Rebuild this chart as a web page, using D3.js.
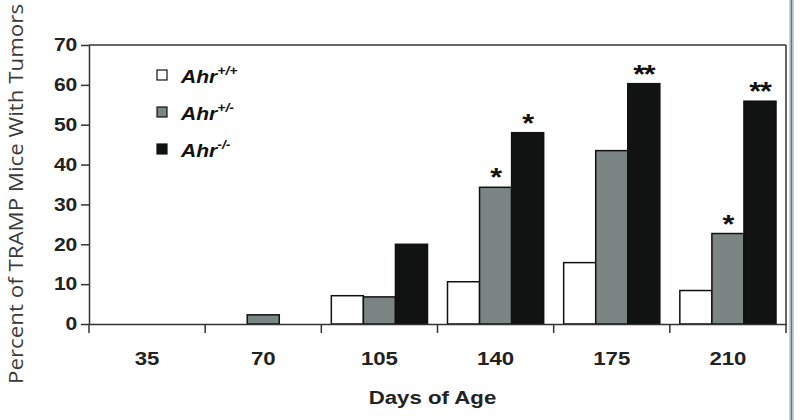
<!DOCTYPE html>
<html>
<head>
<meta charset="utf-8">
<script src="https://cdn.jsdelivr.net/npm/d3@7"></script>
<style>
  body { margin: 0; background: #fff; }
  svg { display: block; }
</style>
</head>
<body>
<svg id="chart" width="800" height="420"></svg>
<script>
// ---- data ----
const days = ["35", "70", "105", "140", "175", "210"];
const wildType = [0, 0, 7.1, 10.6, 15.4, 8.4];     // Ahr+/+
const hetero = [0, 2.3, 6.8, 34.3, 43.5, 22.7];    // Ahr+/-
const knockout = [0, 0, 20.0, 48.0, 60.3, 55.9];   // Ahr-/-
const heteroSig = ["", "", "", "*", "", "*"];
const knockoutSig = ["", "", "", "*", "**", "**"];
const yTicks = [0, 10, 20, 30, 40, 50, 60, 70];
const seriesNames = ["wt", "het", "ko"];
const legendSup = ["+/+", "+/-", "-/-"];
const colors = { wt: "#ffffff", het: "#7b8684", ko: "#111313" };

const svg = d3.select("#chart");
const pLeft = 89, pRight = 786, pTop = 45, pBottom = 324;
const SX = "scale(1.17,1)";
const FONT = "'Liberation Sans', Arial, sans-serif";

const x0 = d3.scaleBand().domain(days).range([pLeft, pRight]).paddingInner(0).paddingOuter(0);
const x1 = d3.scaleBand().domain(seriesNames).range([10, x0.bandwidth() - 10]).padding(0);
const y = d3.scaleLinear().domain([0, 70]).range([pBottom, pTop]);

const rows = days.map((d, i) => ({
  day: d,
  values: [
    { key: "wt", v: wildType[i], sig: "" },
    { key: "het", v: hetero[i], sig: heteroSig[i] },
    { key: "ko", v: knockout[i], sig: knockoutSig[i] }
  ]
}));

// bars
const groups = svg.append("g").selectAll("g").data(rows).join("g")
  .attr("transform", d => `translate(${x0(d.day)},0)`);
groups.selectAll("rect").data(d => d.values.filter(v => v.v > 0)).join("rect")
  .attr("x", d => x1(d.key))
  .attr("width", x1.bandwidth())
  .attr("y", d => y(d.v))
  .attr("height", d => y(0) - y(d.v))
  .attr("fill", d => colors[d.key])
  .attr("stroke", "#111")
  .attr("stroke-width", 1.5);

// significance stars
groups.selectAll("g.sig").data(d => d.values.filter(v => v.sig)).join("g")
  .attr("class", "sig")
  .attr("transform", d => `translate(${x1(d.key) + x1.bandwidth() / 2},${y(d.v) - 1})`)
  .append("text")
  .attr("text-anchor", "middle")
  .attr("transform", SX)
  .attr("font-family", FONT)
  .attr("font-weight", "bold")
  .attr("font-size", 26)
  .attr("letter-spacing", -1)
  .attr("fill", "#111")
  .text(d => d.sig);

// frame: top and right lines
svg.append("line").attr("x1", pLeft).attr("x2", pRight).attr("y1", pTop).attr("y2", pTop)
  .attr("stroke", "#333").attr("stroke-width", 1.5);
svg.append("line").attr("x1", pRight).attr("x2", pRight).attr("y1", pTop).attr("y2", pBottom)
  .attr("stroke", "#333").attr("stroke-width", 1.5);

// y axis
const yAxis = svg.append("g").attr("transform", `translate(${pLeft},0)`)
  .call(d3.axisLeft(y).tickValues(yTicks).tickSize(8).tickPadding(2).tickSizeOuter(0));
yAxis.select(".domain").attr("stroke", "#333").attr("stroke-width", 1.5);
yAxis.selectAll(".tick line").attr("stroke", "#333").attr("stroke-width", 1.5);
yAxis.selectAll(".tick text")
  .attr("font-family", FONT)
  .attr("font-weight", "bold").attr("font-size", 18).attr("fill", "#222")
  .attr("transform", SX);

// x axis
const xAxis = svg.append("g").attr("transform", `translate(0,${pBottom})`)
  .call(d3.axisBottom(x0).tickSize(0).tickPadding(28).tickSizeOuter(0));
xAxis.select(".domain").attr("stroke", "#333").attr("stroke-width", 1.5);
xAxis.selectAll(".tick text")
  .attr("font-family", FONT)
  .attr("font-weight", "bold").attr("font-size", 19).attr("fill", "#222")
  .attr("transform", SX);
// tick marks at band boundaries
const bounds = days.map(d => x0(d)).concat([x0(days[days.length - 1]) + x0.bandwidth()]);
xAxis.selectAll("line.bound").data(bounds).join("line")
  .attr("class", "bound")
  .attr("x1", d => d).attr("x2", d => d).attr("y1", 0).attr("y2", 9)
  .attr("stroke", "#333").attr("stroke-width", 1.5);

// x title
svg.append("g").attr("transform", `translate(${(pLeft + pRight) / 2 - 5},404)`)
  .append("text").attr("text-anchor", "middle").attr("transform", SX)
  .attr("font-family", FONT)
  .attr("font-weight", "bold").attr("font-size", 19).attr("fill", "#222")
  .text("Days of Age");

// y title
svg.append("text")
  .attr("transform", "translate(23,194) rotate(-90)")
  .attr("text-anchor", "middle")
  .attr("font-family", "'Open Sans', sans-serif")
  .attr("font-size", 20).attr("fill", "#3a3a3a")
  .attr("textLength", 380).attr("lengthAdjust", "spacingAndGlyphs")
  .text("Percent of TRAMP Mice With Tumors");

// legend
const legend = svg.append("g");
const legRows = legend.selectAll("g").data(seriesNames).join("g")
  .attr("transform", (d, i) => `translate(157,${83 + i * 37})`);
legRows.append("rect")
  .attr("x", 0).attr("y", -13).attr("width", 10).attr("height", 10)
  .attr("fill", d => colors[d]).attr("stroke", "#111").attr("stroke-width", 1.2);
const legText = legRows.append("g").attr("transform", "translate(24,0)")
  .append("text").attr("transform", SX)
  .attr("font-family", FONT)
  .attr("font-weight", "bold").attr("font-style", "italic")
  .attr("font-size", 18).attr("fill", "#111");
legText.append("tspan").text("Ahr");
legText.append("tspan").attr("dy", -8).attr("font-size", 12)
  .text((d, i) => legendSup[i]);

// right page-edge lines
svg.append("line").attr("x1", 790).attr("x2", 790).attr("y1", 0).attr("y2", 420)
  .attr("stroke", "#5fb8a8").attr("stroke-width", 1);
svg.append("line").attr("x1", 791.5).attr("x2", 791.5).attr("y1", 0).attr("y2", 420)
  .attr("stroke", "#8a5aa0").attr("stroke-width", 1.5);
svg.append("line").attr("x1", 793).attr("x2", 793).attr("y1", 0).attr("y2", 420)
  .attr("stroke", "#99a3a3").attr("stroke-width", 1);
</script>
</body>
</html>
